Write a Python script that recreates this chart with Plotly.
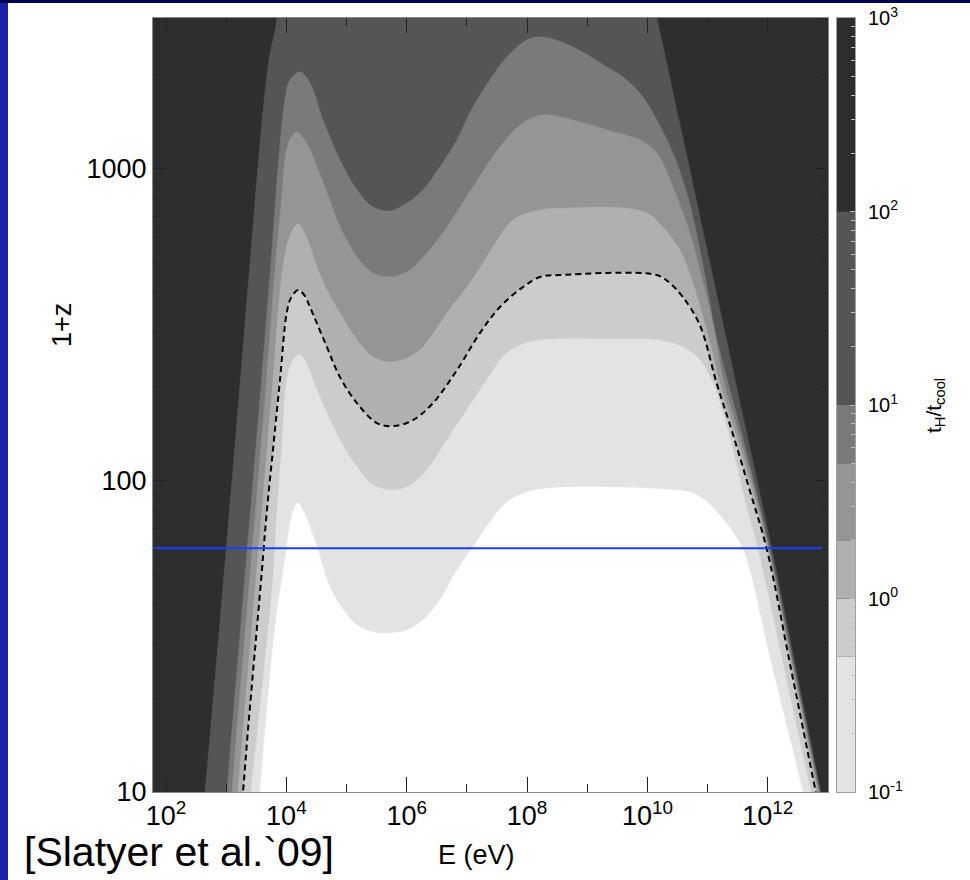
import numpy as np
import plotly.graph_objects as go

# ---------------- data ----------------
# contour levels of t_H / t_cool and the grey of each band between them
levels = [0.1, 0.5, 1, 2, 5, 10, 100, 1000]
band_colors = ["#e3e3e3", "#cccccc", "#b0b0b0", "#959595", "#7a7a7a", "#555555", "#2e2e2e"]
below_color = "#ffffff"

# contour boundaries: log10(E / eV) and 1+z, from bottom-left to bottom-right
c100_logE = [2.581, 2.648, 3.113, 3.645, 3.728, 3.844, 3.877,
             9.915, 10.156, 10.704, 11.098, 11.651, 12.066, 12.472, 12.880, 13.008]
c100_z = [7.55, 10, 107.6, 1757, 2309, 3035, 5000,
          5000, 3035, 987.5, 438.2, 140.5, 60.07, 24.6, 10, 7.55]

c10_logE = [2.963, 3.013, 3.279, 3.561, 3.761, 3.860, 3.977, 4.060, 4.226, 4.392, 4.608, 4.890, 5.173,
            5.439, 5.721, 6.003, 6.269, 6.551, 6.834, 7.100, 7.382, 7.664, 7.997, 8.262, 8.761, 9.326,
            9.591, 9.874, 10.156, 10.422, 10.638, 10.821, 10.970, 11.120, 11.336, 11.568, 11.801,
            12.033, 12.447, 12.864, 12.993]
c10_z = [7.55, 10, 41.2, 180.6, 547, 987.5, 1656.7, 1920, 2037, 1878, 1428.9, 1063.2, 851.8,
         751.2, 729.5, 774, 851.8, 1009.7, 1232.6, 1573, 1920, 2276, 2580, 2638, 2450, 2113.5,
         1963, 1744, 1428.9, 1119.6, 851.8, 611, 438.2, 302.8, 205.1, 140.5, 92.9,
         60.07, 24.6, 10, 7.55]

c5_logE = [3.047, 3.096, 3.362, 3.645, 3.827, 3.922, 4.005, 4.093, 4.176, 4.276, 4.392, 4.674, 4.890,
           5.173, 5.439, 5.721, 6.003, 6.336, 6.668, 7.100, 7.548, 7.930, 8.262, 8.761, 9.326, 9.874,
           10.156, 10.422, 10.704, 10.870, 11.037, 11.153, 11.269, 11.518, 11.776, 12.017,
           12.430, 12.847, 12.977]
c5_z = [7.55, 10, 41.2, 180.6, 508, 791, 1145, 1269, 1308, 1251, 1145, 833.4, 648.1,
        519.4, 461.5, 448, 464.9, 535, 648.1, 871, 1170.6, 1397.6, 1482.5, 1428.9, 1327.2, 1232.6,
        1119.6, 871, 620, 471.8, 351.1, 271, 205.1, 140.5, 92.9, 60.07,
        24.6, 10, 7.55]

c2_logE = [3.146, 3.196, 3.395, 3.595, 3.777, 3.910, 3.977, 4.060, 4.193, 4.326, 4.508, 4.674, 4.890,
           5.173, 5.439, 5.721, 6.003, 6.269, 6.668, 7.000, 7.216, 7.432, 7.764, 8.213, 8.761, 9.591,
           9.990, 10.256, 10.538, 10.738, 10.920, 11.070, 11.203, 11.468, 11.743, 12.000,
           12.414, 12.831, 12.960]
c2_z = [7.55, 10, 28.5, 80.1, 209.4, 428.5, 527, 606.5, 662.5, 606.5, 482.5, 407, 343.4,
        281.3, 248.1, 239.1, 246.3, 267.2, 343.4, 416, 478.7, 559.2, 682.4, 734.8, 745.7, 745.7,
        718.9, 648.1, 547, 438.2, 333.3, 261.3, 205.1, 140.5, 92.9, 60.07,
        24.6, 10, 7.55]

c1_logE = [3.213, 3.279, 3.362, 3.478, 3.590, 3.673, 3.782, 3.894, 4.005, 4.076, 4.198, 4.309, 4.392,
           4.674, 4.890, 5.173, 5.505, 5.771, 6.103, 6.435, 6.834, 7.216, 7.548, 7.930, 8.213, 8.545,
           10.156, 10.372, 10.588, 10.870, 11.148, 11.419, 11.701, 11.983,
           12.389, 12.797, 12.925]
c1_z = [7.55, 10, 15.8, 28.5, 50.3, 78.4, 127.6, 209.4, 343, 383.6, 407, 389, 359,
        267, 214, 176.6, 152.4, 149, 155.8, 176.6, 225.3, 296.2, 359, 416, 448, 454.7,
        454.7, 428.5, 386.5, 314.3, 205.1, 140.5, 92.5, 60.07,
        24.6, 10, 7.55]

c05_logE = [3.346, 3.412, 3.595, 3.777, 3.844, 3.927, 4.010, 4.093, 4.209, 4.326, 4.442, 4.674, 4.890,
            5.173, 5.439, 5.721, 6.003, 6.336, 6.668, 7.000, 7.332, 7.664, 8.047, 8.495, 9.326, 10.156,
            10.588, 10.870, 11.086, 11.236, 11.419, 11.618, 11.834, 12.272, 12.714, 12.852]
c05_z = [7.55, 10, 21.2, 47.8, 78.4, 127.6, 209.4, 239, 251.8, 239, 209.4, 164, 134.4,
         110.1, 96.4, 92.9, 95, 107.6, 134.4, 167.9, 209.4, 255.5, 277.2, 283.3, 283.3, 281.3,
         267.2, 242.7, 205.1, 167.9, 124.8, 86.3, 60.07, 24.6, 10, 7.55]

c01_logE = [3.495, 3.561, 3.694, 3.827, 3.927, 4.010, 4.093, 4.193, 4.309, 4.508, 4.674, 4.890, 5.173,
            5.439, 5.721, 6.003, 6.269, 6.551, 6.834, 7.100, 7.382, 7.664, 7.997, 8.262, 8.761, 9.326,
            9.874, 10.422, 10.704, 10.953, 11.203, 11.419, 11.585, 12.081, 12.581, 12.738]
c01_z = [7.55, 10, 19.7, 35.6, 47.8, 61, 77.2, 84.4, 77.2, 61, 47.8, 39.7, 34.3,
         32.5, 32.3, 33, 35.6, 41.2, 51.4, 61, 73.3, 85, 91.5, 93.6, 95, 95,
         94.3, 92.9, 91.5, 86.3, 77.2, 68.1, 60.07, 24.6, 10, 7.55]

# horizontal reference line (1+z) and its E extent (log10 E)
ref_z = 60.5
ref_logE = [1.784, 12.90]

# axes ticks
x_major_exp = [2, 4, 6, 8, 10, 12]
x_minor_exp = [3, 5, 7, 9, 11, 13]
y_major = [10, 100, 1000]
y_minor = [20, 30, 40, 50, 60, 70, 80, 90, 200, 300, 400, 500, 600, 700, 800, 900, 2000, 3000]
cb_major = [0.1, 1, 10, 100, 1000]
cb_major_exp = [-1, 0, 1, 2, 3]

# ---------------- figure ----------------
W, H = 970, 880
L, R, T, B = 153, 115, 18, 88
pw, ph = W - L - R, H - T - B
PLOT_RIGHT, CB_LEFT = 828, 837


def px_x(px):
    return (px - L) / pw


def px_y(py):
    return (H - B - py) / ph


FONT = "Liberation Sans, Arial, Helvetica, sans-serif"
fig = go.Figure()

fill_sets = [
    (c100_logE, c100_z, band_colors[5]),
    (c10_logE, c10_z, band_colors[4]),
    (c5_logE, c5_z, band_colors[3]),
    (c2_logE, c2_z, band_colors[2]),
    (c1_logE, c1_z, band_colors[1]),
    (c05_logE, c05_z, band_colors[0]),
    (c01_logE, c01_z, below_color),
]
for lx, lz, col in fill_sets:
    fig.add_trace(go.Scatter(
        x=[10 ** v for v in lx], y=lz, mode="lines", fill="toself", fillcolor=col,
        line=dict(width=0.6, color=col, shape="spline", smoothing=1),
        hoverinfo="skip", showlegend=False, xaxis="x", yaxis="y"))

# dashed t_H/t_cool = 1 contour
fig.add_trace(go.Scatter(
    x=[10 ** v for v in c1_logE], y=c1_z, mode="lines",
    line=dict(width=2, color="black", dash="6px,4px", shape="spline", smoothing=1),
    hoverinfo="skip", showlegend=False))

# blue horizontal line
fig.add_trace(go.Scatter(
    x=[10 ** v for v in ref_logE], y=[ref_z, ref_z], mode="lines",
    line=dict(width=2, color="#1f3dff"), hoverinfo="skip", showlegend=False))

# colour bar drawn as its own small log axis
for i, col in enumerate(band_colors):
    lo, hi = levels[i], levels[i + 1]
    fig.add_trace(go.Scatter(
        x=[0, 1, 1, 0, 0], y=[lo, lo, hi, hi, lo], mode="lines", fill="toself",
        fillcolor=col, line=dict(width=0, color=col), hoverinfo="skip",
        showlegend=False, xaxis="x2", yaxis="y2"))

cb_minor = [k * m for m in cb_major[:-1] for k in range(2, 10)]

fig.update_layout(
    width=W, height=H, autosize=False,
    margin=dict(l=L, r=R, t=T, b=B, pad=0, autoexpand=False),
    paper_bgcolor="white", plot_bgcolor=band_colors[6],
    font=dict(family=FONT, color="black"),
    xaxis=dict(type="log", range=[1.784, 13.0], domain=[0, px_x(PLOT_RIGHT)],
               automargin=False, tickmode="array",
               tickvals=[10 ** k for k in x_major_exp],
               ticktext=[f"10<sup>{k}</sup>" for k in x_major_exp],
               ticks="inside", ticklen=15, tickwidth=1, tickcolor="#222222",
               minor=dict(tickmode="array", tickvals=[10 ** k for k in x_minor_exp],
                          ticks="inside", ticklen=8, tickwidth=1, tickcolor="#222222"),
               showline=True, linecolor="#888888", linewidth=1, mirror="ticks",
               showgrid=False, zeroline=False,
               tickfont=dict(family=FONT, size=27, color="black")),
    yaxis=dict(type="log", range=[1.0, 3.482], tickmode="array", automargin=False,
               tickvals=y_major, ticktext=[str(v) for v in y_major],
               ticks="inside", ticklen=13, tickwidth=1, tickcolor="#222222",
               minor=dict(tickmode="array", tickvals=y_minor,
                          ticks="inside", ticklen=6, tickwidth=1, tickcolor="#222222"),
               showline=True, linecolor="#888888", linewidth=1, mirror="ticks",
               showgrid=False, zeroline=False,
               tickfont=dict(family=FONT, size=27, color="black")),
    xaxis2=dict(domain=[px_x(CB_LEFT), 1], anchor="y2", range=[0, 1], showticklabels=False,
                automargin=False, ticks="", showgrid=False, zeroline=False, showline=True,
                linecolor="#a0a0a0", linewidth=1, mirror=True, fixedrange=True),
    yaxis2=dict(type="log", range=[-1, 3], anchor="x2", side="right", tickmode="array",
                automargin=False,
                tickvals=cb_major, ticktext=[f"10<sup>{e}</sup>" for e in cb_major_exp],
                ticks="inside", ticklen=5, tickwidth=1, tickcolor="#bdbdbd",
                minor=dict(tickmode="array", tickvals=cb_minor, ticks="inside",
                           ticklen=4, tickwidth=1, tickcolor="#bdbdbd"),
                showgrid=False, zeroline=False, showline=True, linecolor="#a0a0a0",
                linewidth=1, mirror=True, ticklabelstandoff=8,
                tickfont=dict(family=FONT, size=20, color="black")),
    shapes=[
        dict(type="rect", xref="paper", yref="paper", x0=px_x(0), x1=px_x(8),
             y0=px_y(H), y1=px_y(0), fillcolor="#1c22a8", line=dict(width=0), layer="below"),
        dict(type="rect", xref="paper", yref="paper", x0=px_x(0), x1=px_x(W),
             y0=px_y(3), y1=px_y(0), fillcolor="#00044f", line=dict(width=0), layer="below"),
    ],
    annotations=[
        dict(text="1+z", xref="paper", yref="paper", x=px_x(62), y=px_y(325),
             xanchor="center", yanchor="middle", textangle=-90, showarrow=False,
             font=dict(family=FONT, size=27, color="black")),
        dict(text="E (eV)", xref="paper", yref="paper", x=px_x(476), y=px_y(855),
             xanchor="center", yanchor="middle", showarrow=False,
             font=dict(family=FONT, size=27, color="black")),
        dict(text="[Slatyer et al.`09]", xref="paper", yref="paper", x=px_x(22), y=px_y(852),
             xanchor="left", yanchor="middle", showarrow=False,
             font=dict(family=FONT, size=41, color="black")),
        dict(text="t<sub>H</sub>/t<sub>cool</sub>", xref="paper", yref="paper",
             x=px_x(935), y=px_y(405), xanchor="center", yanchor="middle", textangle=-90,
             showarrow=False, font=dict(family=FONT, size=21, color="black")),
    ],
)

fig.write_html("out.html")
